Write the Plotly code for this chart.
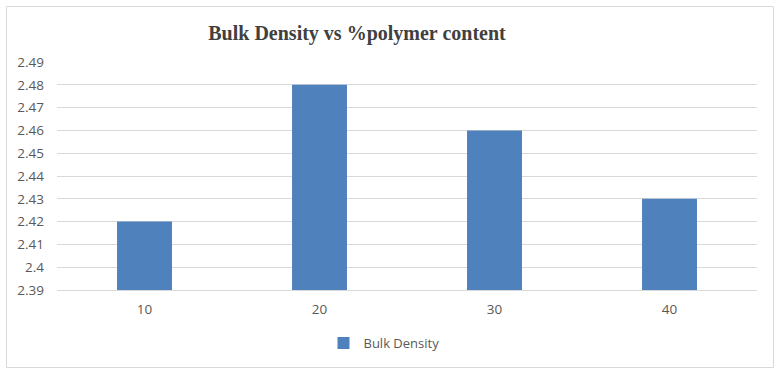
import plotly.graph_objects as go

categories = ["10", "20", "30", "40"]
bulk_density = [2.42, 2.48, 2.46, 2.43]
y_ticks = [2.39, 2.40, 2.41, 2.42, 2.43, 2.44, 2.45, 2.46, 2.47, 2.48, 2.49]
y_tick_labels = ["2.39", "2.4", "2.41", "2.42", "2.43", "2.44", "2.45", "2.46", "2.47", "2.48", "2.49"]

W, H = 780, 372
ML, MR, MT, MB = 57, 23, 62, 82
PW, PH = W - ML - MR, H - MT - MB

def px_x(px):
    return (px - ML) / PW

def px_y(py):
    return (H - MB - py) / PH

fig = go.Figure()
fig.add_trace(go.Bar(
    x=categories, y=bulk_density, name="Bulk Density",
    marker=dict(color="#4f81bd", line=dict(width=0)),
))

fig.update_layout(
    width=W, height=H,
    margin=dict(l=ML, r=MR, t=MT, b=MB),
    paper_bgcolor="white", plot_bgcolor="white",
    bargap=0.686,
    showlegend=True,
    title=dict(
        text="<b>Bulk Density vs %polymer content</b>",
        x=357 / W, xanchor="center", xref="container",
        y=1 - 33 / H, yanchor="middle", yref="container",
        font=dict(family="Liberation Serif", size=20, color="#404040"),
    ),
    legend=dict(
        orientation="h", x=px_x(384), xanchor="center",
        y=px_y(343), yanchor="middle",
        font=dict(family="Open Sans", size=13, color="#595959"),
        itemwidth=30,
    ),
    font=dict(family="Open Sans", size=13, color="#595959"),
    xaxis=dict(
        type="category", showgrid=False, showline=True, linecolor="#d9d9d9",
        linewidth=1, ticks="", ticklabelstandoff=7,
        tickfont=dict(family="Open Sans", size=13.5, color="#595959"),
    ),
    yaxis=dict(
        range=[2.39, 2.49], tickvals=y_ticks, ticktext=y_tick_labels,
        showgrid=True, gridcolor="#d9d9d9", gridwidth=1,
        zeroline=False, showline=False, ticks="", ticklabelstandoff=12,
        tickfont=dict(family="Open Sans", size=13.5, color="#595959"),
    ),
    shapes=[dict(
        type="rect", xref="paper", yref="paper",
        x0=px_x(6.5), x1=px_x(773.5), y0=px_y(367.5), y1=px_y(6.5),
        line=dict(color="#d9d9d9", width=1), fillcolor="rgba(0,0,0,0)",
        layer="below",
    )],
)

fig.write_html("out.html")
